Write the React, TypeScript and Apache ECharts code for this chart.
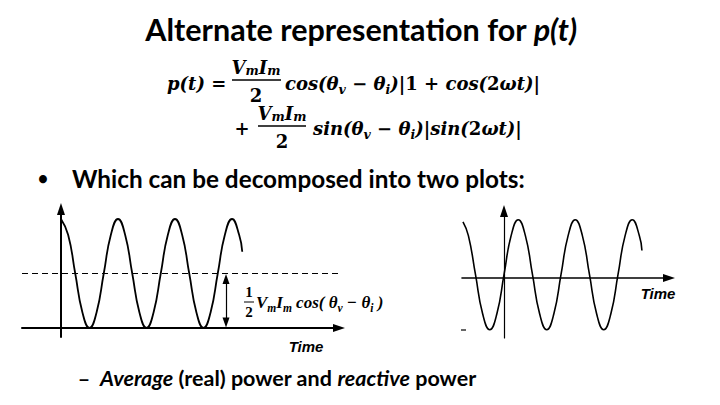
import React, { useEffect, useRef } from "react";
import * as echarts from "echarts";

// ---- data (time in periods of 2ωt) ----
const leftTime = [0, 0.125, 0.25, 0.375, 0.5, 0.625, 0.75, 0.875, 1, 1.125, 1.25, 1.375, 1.5, 1.625, 1.75, 1.875, 2, 2.125, 2.25, 2.375, 2.5, 2.625, 2.75, 2.875, 3, 3.125, 3.18];
const leftPower = [2, 1.71, 1, 0.29, 0, 0.29, 1, 1.71, 2, 1.71, 1, 0.29, 0, 0.29, 1, 1.71, 2, 1.71, 1, 0.29, 0, 0.29, 1, 1.71, 2, 1.71, 1.4];
const averageLevel = 1;
const averageArrowTime = 2.895;

const rightTime = [-0.72, -0.625, -0.5, -0.375, -0.25, -0.125, 0, 0.125, 0.25, 0.375, 0.5, 0.625, 0.75, 0.875, 1, 1.125, 1.25, 1.375, 1.5, 1.625, 1.75, 1.875, 2, 2.125, 2.25, 2.375, 2.42];
const rightReactive = [1.02, 0.77, 0.06, -0.65, -0.94, -0.65, 0.06, 0.77, 1.06, 0.77, 0.06, -0.65, -0.94, -0.65, 0.06, 0.77, 1.06, 0.77, 0.06, -0.65, -0.94, -0.65, 0.06, 0.77, 1.06, 0.77, 0.5];

const titleText = "Alternate representation for ";
const titleItalic = "p(t)";
const bulletText = "Which can be decomposed into two plots:";
const axisName = "Time";

const SANS = "Lato, 'Open Sans', sans-serif";
const SERIF = "'DejaVu Serif', 'Liberation Serif', serif";
const LABEL_SERIF = "'Liberation Serif', 'DejaVu Serif', serif";
const ARIAL = "'Liberation Sans', Arial, sans-serif";

const mathRich = (size: number, sub: number, lh: number, slh: number, family: string) => ({
  i: { fontFamily: family, fontSize: size, fontWeight: "bold", fontStyle: "italic", fill: "#000", lineHeight: lh },
  r: { fontFamily: family, fontSize: size, fontWeight: "bold", fontStyle: "normal", fill: "#000", lineHeight: lh },
  s: { fontFamily: family, fontSize: sub, fontWeight: "bold", fontStyle: "italic", fill: "#000", lineHeight: slh, verticalAlign: "bottom" },
});

function mathText(x: number, y: number, text: string, size = 18, sub = 12.5, align = "left", family = SERIF, lh = 0, slh = 0) {
  return {
    type: "text",
    x,
    y,
    silent: true,
    style: {
      text,
      textAlign: align,
      textVerticalAlign: "middle",
      rich: mathRich(size, sub, lh || Math.round(size * 1.4), slh || Math.round(sub * 1.05), family),
    },
  };
}

function hline(x1: number, x2: number, y: number, w = 1.5) {
  return { type: "line", silent: true, shape: { x1, y1: y, x2, y2: y }, style: { stroke: "#000", lineWidth: w } };
}

const axisCommon = {
  axisTick: { show: false },
  axisLabel: { show: false },
  splitLine: { show: false },
};

export default function App() {
  const ref = useRef<HTMLDivElement>(null);
  useEffect(() => {
    const chart = echarts.init(ref.current!, null, { renderer: "svg", width: 720, height: 405 });
    const option: any = {
      animation: false,
      backgroundColor: "#ffffff",
      grid: [
        { left: 22, top: 209, width: 317, height: 128 },
        { left: 462, top: 211, width: 207, height: 127 },
      ],
      xAxis: [
        {
          type: "value", gridIndex: 0, min: -0.684, max: 4.877, ...axisCommon,
          axisLine: { onZero: true, symbol: ["none", "triangle"], symbolSize: [8, 12], lineStyle: { color: "#000", width: 2 } },
        },
        {
          type: "value", gridIndex: 1, min: -0.737, max: 2.895, ...axisCommon,
          axisLine: { onZero: true, symbol: ["none", "triangle"], symbolSize: [8, 12], lineStyle: { color: "#000", width: 1.6 } },
        },
      ],
      yAxis: [
        {
          type: "value", gridIndex: 0, min: -0.165, max: 2.183, ...axisCommon,
          axisLine: { onZero: true, symbol: ["none", "triangle"], symbolSize: [8, 12], lineStyle: { color: "#000", width: 2 } },
        },
        {
          type: "value", gridIndex: 1, min: -1.09, max: 1.218, ...axisCommon,
          axisLine: { onZero: true, symbol: ["none", "triangle"], symbolSize: [8, 12], lineStyle: { color: "#000", width: 1.2 } },
        },
      ],
      series: [
        {
          type: "line",
          xAxisIndex: 0,
          yAxisIndex: 0,
          data: leftTime.map((t, i) => [t, leftPower[i]]),
          smooth: true,
          showSymbol: false,
          silent: true,
          lineStyle: { color: "#000", width: 1.8 },
          markLine: {
            silent: true,
            symbol: ["none", "none"],
            label: { show: false },
            lineStyle: { color: "#000", width: 1.2, type: "solid" },
            data: [
              { yAxis: averageLevel, lineStyle: { type: [6, 4], width: 1.2, color: "#000" } },
              [
                { coord: [averageArrowTime, averageLevel * 0.9], symbol: "triangle", symbolSize: [7, 10] },
                { coord: [averageArrowTime, averageLevel * 0.1], symbol: "triangle", symbolSize: [7, 10] },
              ],
            ],
          },
        },
        {
          type: "line",
          xAxisIndex: 1,
          yAxisIndex: 1,
          data: rightTime.map((t, i) => [t, rightReactive[i]]),
          smooth: true,
          showSymbol: false,
          silent: true,
          lineStyle: { color: "#000", width: 1.6 },
        },
      ],
      graphic: [
        {
          type: "text", x: 361, y: 29, silent: true,
          style: {
            text: titleText + "{it|" + titleItalic + "}",
            fontFamily: SANS, fontSize: 30.5, fontWeight: "bold", fill: "#000",
            textAlign: "center", textVerticalAlign: "middle",
            rich: { it: { fontFamily: SANS, fontSize: 30.5, fontWeight: "bold", fontStyle: "italic", fill: "#000" } },
          },
        },
        // equation line 1
        mathText(167, 83, "{i|p(t)}{r| =}"),
        mathText(256, 67, "{i|V}{s|m}{i|I}{s|m}", 18, 12.5, "center", SERIF, 20, 12),
        hline(232, 281, 80),
        mathText(256, 95, "{r|2}", 18, 12.5, "center", SERIF, 16, 12),
        mathText(285, 83, "{i|cos(θ}{s|v}{r| − }{i|θ}{s|i}{i|)}{r||1 + }{i|cos(}{r|2}{i|ωt)}{r||}"),
        // equation line 2
        mathText(242, 128, "{r|+}", 18, 12.5, "center"),
        mathText(282, 113, "{i|V}{s|m}{i|I}{s|m}", 18, 12.5, "center", SERIF, 20, 12),
        hline(258, 306, 126),
        mathText(282, 141, "{r|2}", 18, 12.5, "center", SERIF, 16, 12),
        mathText(313, 128, "{i|sin(θ}{s|v}{r| − }{i|θ}{s|i}{i|)}{r||}{i|sin(}{r|2}{i|ωt)}{r||}"),
        // bullet
        {
          type: "text", x: 43, y: 178, silent: true,
          style: { text: "•", fontFamily: SANS, fontSize: 18, fontWeight: "bold", fill: "#000", textAlign: "center", textVerticalAlign: "middle" },
        },
        {
          type: "text", x: 72, y: 178, silent: true,
          style: { text: bulletText, fontFamily: SANS, fontSize: 24.3, fontWeight: "bold", fill: "#000", textAlign: "left", textVerticalAlign: "middle" },
        },
        // left plot label
        mathText(249, 292, "{r|1}", 15, 10, "center", LABEL_SERIF, 14, 10),
        hline(244, 254, 302, 1),
        mathText(249, 312, "{r|2}", 15, 10, "center", LABEL_SERIF, 14, 10),
        mathText(256, 302, "{i|V}{s|m}{i|I}{s|m}{i| cos( θ}{s|v}{i| − θ}{s|i}{i| )}", 17, 11.5, "left", LABEL_SERIF),
        {
          type: "text", x: 306, y: 346, silent: true,
          style: { text: axisName, fontFamily: ARIAL, fontSize: 15, fontWeight: "bold", fontStyle: "italic", fill: "#000", textAlign: "center", textVerticalAlign: "middle" },
        },
        {
          type: "text", x: 658, y: 293, silent: true,
          style: { text: axisName, fontFamily: ARIAL, fontSize: 15, fontWeight: "bold", fontStyle: "italic", fill: "#000", textAlign: "center", textVerticalAlign: "middle" },
        },
        hline(461, 466, 330, 1.2),
        // sub bullet
        {
          type: "text", x: 84, y: 378, silent: true,
          style: { text: "–", fontFamily: SANS, fontSize: 21.5, fontWeight: "bold", fill: "#000", textAlign: "center", textVerticalAlign: "middle" },
        },
        {
          type: "text", x: 100, y: 378, silent: true,
          style: {
            text: "{it|Average} (real) power and {it|reactive} power",
            fontFamily: SANS, fontSize: 21.5, fontWeight: "bold", fill: "#000",
            textAlign: "left", textVerticalAlign: "middle",
            rich: { it: { fontFamily: SANS, fontSize: 21.5, fontWeight: "bold", fontStyle: "italic", fill: "#000" } },
          },
        },
      ],
    };
    chart.setOption(option);
    return () => chart.dispose();
  }, []);
  return (
    <div
      ref={ref}
      style={{ position: "fixed", left: 0, top: 0, width: 720, height: 405, background: "#fff" }}
    />
  );
}
